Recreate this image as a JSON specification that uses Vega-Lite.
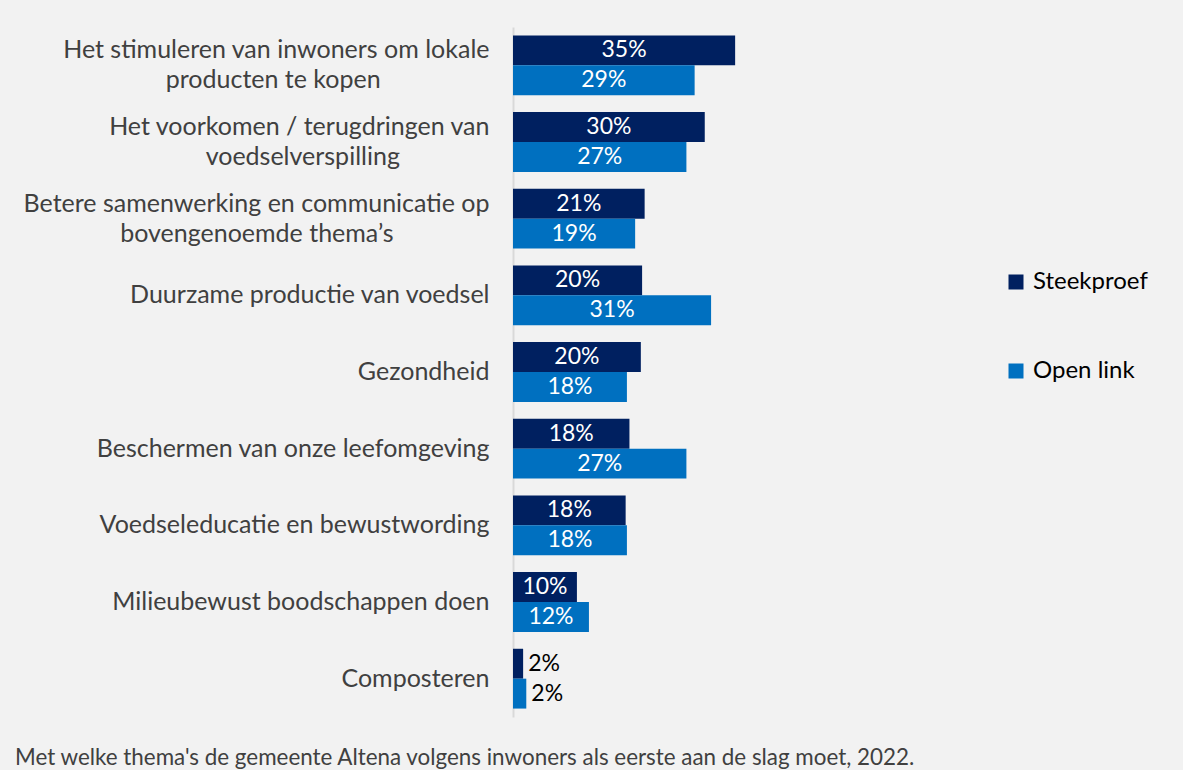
{
  "$schema": "https://vega.github.io/schema/vega-lite/v6.json",
  "autosize": {"type": "none"},
  "padding": {"left": 513, "top": 27, "right": 227, "bottom": 53},
  "width": 443,
  "height": 690,
  "background": "#f2f2f2",
  "config": {
    "view": {"stroke": null},
    "font": "Lato"
  },
  "title": {
    "text": "Met welke thema's de gemeente Altena volgens inwoners als eerste aan de slag moet, 2022.",
    "orient": "bottom",
    "anchor": "start",
    "frame": "group",
    "dx": -498,
    "offset": 30,
    "font": "Lato",
    "fontSize": 22.4,
    "fontWeight": "normal",
    "color": "#404040"
  },
  "data": {
    "values": [
      {"cat": "Het stimuleren van inwoners om lokale|producten te kopen\u00a0\u00a0\u00a0\u00a0\u00a0\u00a0\u00a0\u00a0\u00a0\u00a0\u00a0\u00a0\u00a0\u00a0\u00a0\u00a0\u00a0\u200b", "series": "Steekproef", "value": 0.351},
      {"cat": "Het stimuleren van inwoners om lokale|producten te kopen\u00a0\u00a0\u00a0\u00a0\u00a0\u00a0\u00a0\u00a0\u00a0\u00a0\u00a0\u00a0\u00a0\u00a0\u00a0\u00a0\u00a0\u200b", "series": "Open link", "value": 0.287},
      {"cat": "Het voorkomen / terugdringen van|voedselverspilling\u00a0\u00a0\u00a0\u00a0\u00a0\u00a0\u00a0\u00a0\u00a0\u00a0\u00a0\u00a0\u00a0\u00a0\u200b", "series": "Steekproef", "value": 0.303},
      {"cat": "Het voorkomen / terugdringen van|voedselverspilling\u00a0\u00a0\u00a0\u00a0\u00a0\u00a0\u00a0\u00a0\u00a0\u00a0\u00a0\u00a0\u00a0\u00a0\u200b", "series": "Open link", "value": 0.274},
      {"cat": "Betere samenwerking en communicatie op|bovengenoemde thema’s\u00a0\u00a0\u00a0\u00a0\u00a0\u00a0\u00a0\u00a0\u00a0\u00a0\u00a0\u00a0\u00a0\u00a0\u00a0\u200b", "series": "Steekproef", "value": 0.208},
      {"cat": "Betere samenwerking en communicatie op|bovengenoemde thema’s\u00a0\u00a0\u00a0\u00a0\u00a0\u00a0\u00a0\u00a0\u00a0\u00a0\u00a0\u00a0\u00a0\u00a0\u00a0\u200b", "series": "Open link", "value": 0.193},
      {"cat": "Duurzame productie van voedsel", "series": "Steekproef", "value": 0.204},
      {"cat": "Duurzame productie van voedsel", "series": "Open link", "value": 0.313},
      {"cat": "Gezondheid", "series": "Steekproef", "value": 0.202},
      {"cat": "Gezondheid", "series": "Open link", "value": 0.18},
      {"cat": "Beschermen van onze leefomgeving", "series": "Steekproef", "value": 0.184},
      {"cat": "Beschermen van onze leefomgeving", "series": "Open link", "value": 0.274},
      {"cat": "Voedseleducatie en bewustwording", "series": "Steekproef", "value": 0.178},
      {"cat": "Voedseleducatie en bewustwording", "series": "Open link", "value": 0.18},
      {"cat": "Milieubewust boodschappen doen", "series": "Steekproef", "value": 0.101},
      {"cat": "Milieubewust boodschappen doen", "series": "Open link", "value": 0.12},
      {"cat": "Composteren", "series": "Steekproef", "value": 0.016},
      {"cat": "Composteren", "series": "Open link", "value": 0.021}
    ]
  },
  "encoding": {
    "y": {
      "field": "cat",
      "type": "nominal",
      "sort": null,
      "scale": {"paddingInner": 0.22, "paddingOuter": 0.11},
      "axis": {
        "title": null,
        "ticks": false,
        "grid": false,
        "domain": true,
        "domainColor": "#d9d9d9",
        "domainWidth": 2,
        "labelFont": "Lato",
        "labelFontSize": 25,
        "labelColor": "#404040",
        "labelPadding": 24,
        "labelLineHeight": 30,
        "labelLimit": 0,
        "labelOffset": {"condition": {"test": "indexof(datum.value, '|') >= 0", "value": -15}, "value": 0},
        "labelExpr": "split(datum.label, '|')"
      }
    },
    "yOffset": {"field": "series", "type": "nominal", "sort": ["Steekproef", "Open link"]}
  },
  "layer": [
    {
      "mark": {"type": "bar"},
      "encoding": {
        "x": {
          "field": "value",
          "type": "quantitative",
          "scale": {"domain": [0, 0.7], "nice": false, "zero": true},
          "axis": null
        },
        "color": {
          "field": "series",
          "type": "nominal",
          "sort": ["Steekproef", "Open link"],
          "scale": {"domain": ["Steekproef", "Open link"], "range": ["#002060", "#0070c0"]},
          "legend": {
            "title": null,
            "orient": "none",
            "legendX": 491,
            "legendY": 243,
            "symbolType": "square",
            "symbolSize": 225,
            "symbolStrokeWidth": 0,
            "symbolOpacity": 1,
            "labelFont": "Lato",
            "labelFontSize": 24,
            "labelColor": "#000000",
            "labelOffset": 5,
            "rowPadding": 65
          }
        }
      }
    },
    {
      "transform": [
        {"filter": "datum.value >= 0.05"},
        {"calculate": "datum.value / 2", "as": "mid"}
      ],
      "mark": {"type": "text", "align": "center", "baseline": "middle", "color": "#ffffff", "font": "Lato", "fontSize": 23},
      "encoding": {
        "x": {"field": "mid", "type": "quantitative"},
        "text": {"field": "value", "type": "quantitative", "format": ".0%"}
      }
    },
    {
      "transform": [{"filter": "datum.value < 0.05"}],
      "mark": {"type": "text", "align": "left", "baseline": "middle", "dx": 5, "color": "#000000", "font": "Lato", "fontSize": 23},
      "encoding": {
        "x": {"field": "value", "type": "quantitative"},
        "text": {"field": "value", "type": "quantitative", "format": ".0%"}
      }
    }
  ]
}
